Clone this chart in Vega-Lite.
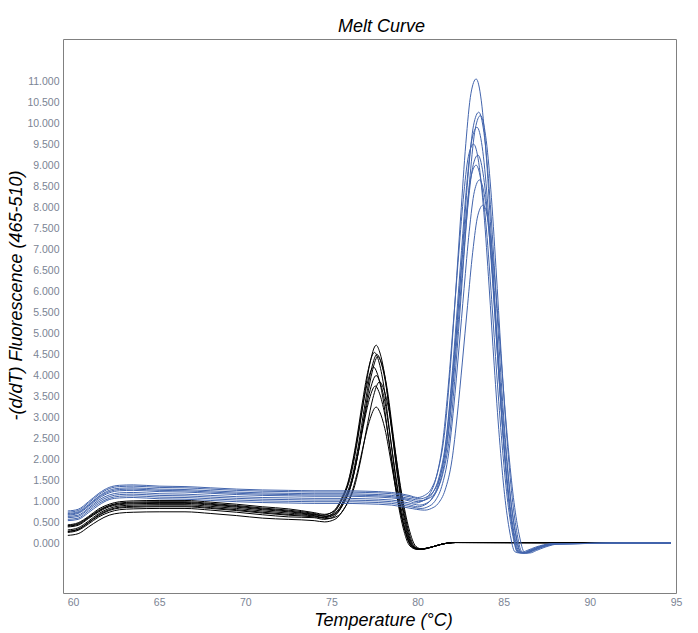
{
  "$schema": "https://vega.github.io/schema/vega-lite/v6.json",
  "width": 613,
  "height": 554,
  "autosize": {"type": "none"},
  "padding": {"top": 39, "left": 63, "right": 22, "bottom": 40},
  "background": "#ffffff",
  "title": {
    "text": "Melt Curve",
    "font": "Liberation Sans",
    "fontSize": 18,
    "fontStyle": "italic",
    "fontWeight": "normal",
    "color": "#000000",
    "anchor": "middle",
    "baseline": "alphabetic",
    "dx": 12,
    "dy": 18,
    "offset": 7
  },
  "datasets": {
    "black": [
      {"s":1,"t":59.7,"v":0.45},{"s":1,"t":60.3,"v":0.50},{"s":1,"t":60.9,"v":0.65},{"s":1,"t":61.5,"v":0.83},{"s":1,"t":62.1,"v":0.94},{"s":1,"t":62.7,"v":1.00},{"s":1,"t":63.5,"v":1.02},{"s":1,"t":65,"v":1.03},{"s":1,"t":66.5,"v":1.03},{"s":1,"t":68,"v":0.99},{"s":1,"t":69.5,"v":0.94},{"s":1,"t":71,"v":0.88},{"s":1,"t":72.5,"v":0.83},{"s":1,"t":74,"v":0.74},
      {"s":1,"t":74.6,"v":0.70},{"s":1,"t":75.2,"v":0.79},{"s":1,"t":75.7,"v":1.13},{"s":1,"t":76.1,"v":1.58},{"s":1,"t":76.5,"v":2.42},{"s":1,"t":76.9,"v":3.49},{"s":1,"t":77.2,"v":4.22},{"s":1,"t":77.6,"v":4.72},{"s":1,"t":77.8,"v":4.56},{"s":1,"t":78.1,"v":3.99},{"s":1,"t":78.5,"v":2.70},{"s":1,"t":78.9,"v":1.41},{"s":1,"t":79.3,"v":0.46},{"s":1,"t":79.7,"v":-0.04},{"s":1,"t":80.1,"v":-0.13},
      {"s":1,"t":80.8,"v":-0.08},{"s":1,"t":81.4,"v":-0.01},{"s":1,"t":82.2,"v":0.03},{"s":1,"t":94.7,"v":0.02},

      {"s":2,"t":59.7,"v":0.43},{"s":2,"t":60.3,"v":0.48},{"s":2,"t":60.9,"v":0.63},{"s":2,"t":61.5,"v":0.80},{"s":2,"t":62.1,"v":0.91},{"s":2,"t":62.7,"v":0.97},{"s":2,"t":63.5,"v":0.99},{"s":2,"t":65,"v":1.00},{"s":2,"t":66.5,"v":1.00},{"s":2,"t":68,"v":0.96},{"s":2,"t":69.5,"v":0.91},{"s":2,"t":71,"v":0.85},{"s":2,"t":72.5,"v":0.80},{"s":2,"t":74,"v":0.72},
      {"s":2,"t":74.5,"v":0.68},{"s":2,"t":75.1,"v":0.77},{"s":2,"t":75.6,"v":1.09},{"s":2,"t":76.0,"v":1.52},{"s":2,"t":76.4,"v":2.33},{"s":2,"t":76.8,"v":3.37},{"s":2,"t":77.1,"v":4.07},{"s":2,"t":77.5,"v":4.55},{"s":2,"t":77.7,"v":4.40},{"s":2,"t":78.0,"v":3.85},{"s":2,"t":78.4,"v":2.60},{"s":2,"t":78.8,"v":1.36},{"s":2,"t":79.2,"v":0.44},{"s":2,"t":79.6,"v":-0.04},{"s":2,"t":80.0,"v":-0.13},
      {"s":2,"t":80.8,"v":-0.08},{"s":2,"t":81.4,"v":-0.01},{"s":2,"t":82.2,"v":0.03},{"s":2,"t":94.7,"v":0.02},

      {"s":3,"t":59.7,"v":0.42},{"s":3,"t":60.3,"v":0.46},{"s":3,"t":60.9,"v":0.62},{"s":3,"t":61.5,"v":0.78},{"s":3,"t":62.1,"v":0.90},{"s":3,"t":62.7,"v":0.95},{"s":3,"t":63.5,"v":0.97},{"s":3,"t":65,"v":0.98},{"s":3,"t":66.5,"v":0.98},{"s":3,"t":68,"v":0.94},{"s":3,"t":69.5,"v":0.89},{"s":3,"t":71,"v":0.83},{"s":3,"t":72.5,"v":0.78},{"s":3,"t":74,"v":0.70},
      {"s":3,"t":74.65,"v":0.66},{"s":3,"t":75.25,"v":0.75},{"s":3,"t":75.75,"v":1.07},{"s":3,"t":76.15,"v":1.50},{"s":3,"t":76.55,"v":2.30},{"s":3,"t":76.95,"v":3.33},{"s":3,"t":77.25,"v":4.02},{"s":3,"t":77.65,"v":4.50},{"s":3,"t":77.85,"v":4.35},{"s":3,"t":78.15,"v":3.81},{"s":3,"t":78.55,"v":2.58},{"s":3,"t":78.95,"v":1.35},{"s":3,"t":79.35,"v":0.44},{"s":3,"t":79.75,"v":-0.05},{"s":3,"t":80.15,"v":-0.13},
      {"s":3,"t":80.8,"v":-0.08},{"s":3,"t":81.4,"v":-0.01},{"s":3,"t":82.2,"v":0.03},{"s":3,"t":94.7,"v":0.02},

      {"s":4,"t":59.7,"v":0.40},{"s":4,"t":60.3,"v":0.44},{"s":4,"t":60.9,"v":0.60},{"s":4,"t":61.5,"v":0.76},{"s":4,"t":62.1,"v":0.88},{"s":4,"t":62.7,"v":0.93},{"s":4,"t":63.5,"v":0.95},{"s":4,"t":65,"v":0.96},{"s":4,"t":66.5,"v":0.96},{"s":4,"t":68,"v":0.92},{"s":4,"t":69.5,"v":0.87},{"s":4,"t":71,"v":0.81},{"s":4,"t":72.5,"v":0.76},{"s":4,"t":74,"v":0.69},
      {"s":4,"t":74.7,"v":0.65},{"s":4,"t":75.3,"v":0.73},{"s":4,"t":75.8,"v":1.05},{"s":4,"t":76.2,"v":1.48},{"s":4,"t":76.6,"v":2.27},{"s":4,"t":77.0,"v":3.29},{"s":4,"t":77.3,"v":3.97},{"s":4,"t":77.7,"v":4.45},{"s":4,"t":77.9,"v":4.30},{"s":4,"t":78.2,"v":3.77},{"s":4,"t":78.6,"v":2.55},{"s":4,"t":79.0,"v":1.33},{"s":4,"t":79.4,"v":0.43},{"s":4,"t":79.8,"v":-0.05},{"s":4,"t":80.2,"v":-0.13},
      {"s":4,"t":80.8,"v":-0.08},{"s":4,"t":81.4,"v":-0.01},{"s":4,"t":82.2,"v":0.03},{"s":4,"t":94.7,"v":0.02},

      {"s":5,"t":59.7,"v":0.33},{"s":5,"t":60.3,"v":0.38},{"s":5,"t":60.9,"v":0.54},{"s":5,"t":61.5,"v":0.72},{"s":5,"t":62.1,"v":0.84},{"s":5,"t":62.7,"v":0.90},{"s":5,"t":63.5,"v":0.92},{"s":5,"t":65,"v":0.93},{"s":5,"t":66.5,"v":0.93},{"s":5,"t":68,"v":0.89},{"s":5,"t":69.5,"v":0.84},{"s":5,"t":71,"v":0.78},{"s":5,"t":72.5,"v":0.73},{"s":5,"t":74,"v":0.67},
      {"s":5,"t":74.45,"v":0.63},{"s":5,"t":75.05,"v":0.71},{"s":5,"t":75.55,"v":1.01},{"s":5,"t":75.95,"v":1.41},{"s":5,"t":76.35,"v":2.16},{"s":5,"t":76.75,"v":3.11},{"s":5,"t":77.05,"v":3.76},{"s":5,"t":77.45,"v":4.20},{"s":5,"t":77.65,"v":4.06},{"s":5,"t":77.95,"v":3.56},{"s":5,"t":78.35,"v":2.40},{"s":5,"t":78.75,"v":1.25},{"s":5,"t":79.15,"v":0.40},{"s":5,"t":79.55,"v":-0.05},{"s":5,"t":79.95,"v":-0.13},
      {"s":5,"t":80.8,"v":-0.08},{"s":5,"t":81.4,"v":-0.01},{"s":5,"t":82.2,"v":0.03},{"s":5,"t":94.7,"v":0.02},

      {"s":6,"t":59.7,"v":0.30},{"s":6,"t":60.3,"v":0.35},{"s":6,"t":60.9,"v":0.51},{"s":6,"t":61.5,"v":0.69},{"s":6,"t":62.1,"v":0.81},{"s":6,"t":62.7,"v":0.87},{"s":6,"t":63.5,"v":0.89},{"s":6,"t":65,"v":0.90},{"s":6,"t":66.5,"v":0.90},{"s":6,"t":68,"v":0.86},{"s":6,"t":69.5,"v":0.81},{"s":6,"t":71,"v":0.75},{"s":6,"t":72.5,"v":0.70},{"s":6,"t":74,"v":0.66},
      {"s":6,"t":74.6,"v":0.62},{"s":6,"t":75.2,"v":0.70},{"s":6,"t":75.7,"v":0.98},{"s":6,"t":76.1,"v":1.36},{"s":6,"t":76.5,"v":2.06},{"s":6,"t":76.9,"v":2.97},{"s":6,"t":77.2,"v":3.58},{"s":6,"t":77.6,"v":4.00},{"s":6,"t":77.8,"v":3.86},{"s":6,"t":78.1,"v":3.38},{"s":6,"t":78.5,"v":2.28},{"s":6,"t":78.9,"v":1.18},{"s":6,"t":79.3,"v":0.38},{"s":6,"t":79.7,"v":-0.06},{"s":6,"t":80.1,"v":-0.13},
      {"s":6,"t":80.8,"v":-0.08},{"s":6,"t":81.4,"v":-0.01},{"s":6,"t":82.2,"v":0.03},{"s":6,"t":94.7,"v":0.02},

      {"s":7,"t":59.7,"v":0.29},{"s":7,"t":60.3,"v":0.34},{"s":7,"t":60.9,"v":0.50},{"s":7,"t":61.5,"v":0.67},{"s":7,"t":62.1,"v":0.79},{"s":7,"t":62.7,"v":0.85},{"s":7,"t":63.5,"v":0.87},{"s":7,"t":65,"v":0.88},{"s":7,"t":66.5,"v":0.88},{"s":7,"t":68,"v":0.84},{"s":7,"t":69.5,"v":0.79},{"s":7,"t":71,"v":0.73},{"s":7,"t":72.5,"v":0.68},{"s":7,"t":74,"v":0.64},
      {"s":7,"t":74.8,"v":0.60},{"s":7,"t":75.4,"v":0.67},{"s":7,"t":75.9,"v":0.95},{"s":7,"t":76.3,"v":1.31},{"s":7,"t":76.7,"v":1.99},{"s":7,"t":77.1,"v":2.86},{"s":7,"t":77.4,"v":3.45},{"s":7,"t":77.8,"v":3.85},{"s":7,"t":78.0,"v":3.72},{"s":7,"t":78.3,"v":3.25},{"s":7,"t":78.7,"v":2.20},{"s":7,"t":79.1,"v":1.14},{"s":7,"t":79.5,"v":0.36},{"s":7,"t":79.9,"v":-0.06},{"s":7,"t":80.3,"v":-0.13},
      {"s":7,"t":80.8,"v":-0.08},{"s":7,"t":81.4,"v":-0.01},{"s":7,"t":82.2,"v":0.03},{"s":7,"t":94.7,"v":0.02},

      {"s":8,"t":59.7,"v":0.27},{"s":8,"t":60.3,"v":0.32},{"s":8,"t":60.9,"v":0.47},{"s":8,"t":61.5,"v":0.64},{"s":8,"t":62.1,"v":0.75},{"s":8,"t":62.7,"v":0.81},{"s":8,"t":63.5,"v":0.83},{"s":8,"t":65,"v":0.84},{"s":8,"t":66.5,"v":0.84},{"s":8,"t":68,"v":0.80},{"s":8,"t":69.5,"v":0.75},{"s":8,"t":71,"v":0.69},{"s":8,"t":72.5,"v":0.64},{"s":8,"t":74,"v":0.62},
      {"s":8,"t":74.55,"v":0.58},{"s":8,"t":75.15,"v":0.65},{"s":8,"t":75.65,"v":0.92},{"s":8,"t":76.05,"v":1.27},{"s":8,"t":76.45,"v":1.94},{"s":8,"t":76.85,"v":2.79},{"s":8,"t":77.15,"v":3.36},{"s":8,"t":77.55,"v":3.75},{"s":8,"t":77.75,"v":3.62},{"s":8,"t":78.05,"v":3.17},{"s":8,"t":78.45,"v":2.14},{"s":8,"t":78.85,"v":1.11},{"s":8,"t":79.25,"v":0.35},{"s":8,"t":79.65,"v":-0.06},{"s":8,"t":80.05,"v":-0.13},
      {"s":8,"t":80.8,"v":-0.08},{"s":8,"t":81.4,"v":-0.01},{"s":8,"t":82.2,"v":0.03},{"s":8,"t":94.7,"v":0.02},

      {"s":9,"t":59.7,"v":0.20},{"s":9,"t":60.3,"v":0.24},{"s":9,"t":60.9,"v":0.40},{"s":9,"t":61.5,"v":0.56},{"s":9,"t":62.1,"v":0.68},{"s":9,"t":62.7,"v":0.73},{"s":9,"t":63.5,"v":0.75},{"s":9,"t":65,"v":0.76},{"s":9,"t":66.5,"v":0.76},{"s":9,"t":68,"v":0.72},{"s":9,"t":69.5,"v":0.67},{"s":9,"t":71,"v":0.61},{"s":9,"t":72.5,"v":0.58},{"s":9,"t":74,"v":0.55},
      {"s":9,"t":74.6,"v":0.52},{"s":9,"t":75.2,"v":0.58},{"s":9,"t":75.7,"v":0.81},{"s":9,"t":76.1,"v":1.12},{"s":9,"t":76.5,"v":1.69},{"s":9,"t":76.9,"v":2.42},{"s":9,"t":77.2,"v":2.91},{"s":9,"t":77.6,"v":3.25},{"s":9,"t":77.8,"v":3.14},{"s":9,"t":78.1,"v":2.74},{"s":9,"t":78.5,"v":1.85},{"s":9,"t":78.9,"v":0.95},{"s":9,"t":79.3,"v":0.29},{"s":9,"t":79.7,"v":-0.07},{"s":9,"t":80.1,"v":-0.13},
      {"s":9,"t":80.8,"v":-0.08},{"s":9,"t":81.4,"v":-0.01},{"s":9,"t":82.2,"v":0.03},{"s":9,"t":94.7,"v":0.02}
    ],
    "blue": [
      {"s":1,"t":59.7,"v":0.78},{"s":1,"t":60.3,"v":0.82},{"s":1,"t":60.9,"v":1.00},{"s":1,"t":61.5,"v":1.20},{"s":1,"t":62.1,"v":1.34},{"s":1,"t":62.7,"v":1.39},{"s":1,"t":63.5,"v":1.40},{"s":1,"t":65,"v":1.37},{"s":1,"t":66.5,"v":1.36},{"s":1,"t":68,"v":1.33},{"s":1,"t":69.5,"v":1.30},{"s":1,"t":71,"v":1.28},{"s":1,"t":72.5,"v":1.27},{"s":1,"t":74,"v":1.26},{"s":1,"t":75.5,"v":1.26},{"s":1,"t":77,"v":1.25},{"s":1,"t":78.5,"v":1.22},{"s":1,"t":79.5,"v":1.15},
      {"s":1,"t":80.0,"v":1.10},{"s":1,"t":80.4,"v":1.15},{"s":1,"t":80.8,"v":1.31},{"s":1,"t":81.2,"v":1.76},{"s":1,"t":81.6,"v":2.75},{"s":1,"t":81.9,"v":4.17},{"s":1,"t":82.2,"v":5.92},{"s":1,"t":82.5,"v":7.77},{"s":1,"t":82.8,"v":9.51},{"s":1,"t":83.1,"v":10.71},{"s":1,"t":83.4,"v":11.05},{"s":1,"t":83.7,"v":10.53},{"s":1,"t":84.0,"v":9.15},{"s":1,"t":84.3,"v":7.13},{"s":1,"t":84.6,"v":4.92},{"s":1,"t":84.9,"v":2.95},{"s":1,"t":85.2,"v":1.38},{"s":1,"t":85.5,"v":0.36},{"s":1,"t":85.8,"v":-0.19},{"s":1,"t":86.1,"v":-0.22},{"s":1,"t":86.5,"v":-0.16},{"s":1,"t":87.0,"v":-0.08},{"s":1,"t":87.9,"v":0.0},{"s":1,"t":94.7,"v":0.02},

      {"s":2,"t":59.7,"v":0.75},{"s":2,"t":60.3,"v":0.79},{"s":2,"t":60.9,"v":0.97},{"s":2,"t":61.5,"v":1.17},{"s":2,"t":62.1,"v":1.31},{"s":2,"t":62.7,"v":1.36},{"s":2,"t":63.5,"v":1.37},{"s":2,"t":65,"v":1.34},{"s":2,"t":66.5,"v":1.33},{"s":2,"t":68,"v":1.30},{"s":2,"t":69.5,"v":1.27},{"s":2,"t":71,"v":1.25},{"s":2,"t":72.5,"v":1.24},{"s":2,"t":74,"v":1.23},{"s":2,"t":75.5,"v":1.23},{"s":2,"t":77,"v":1.22},{"s":2,"t":78.5,"v":1.19},{"s":2,"t":79.5,"v":1.12},
      {"s":2,"t":80.15,"v":1.07},{"s":2,"t":80.55,"v":1.12},{"s":2,"t":80.95,"v":1.26},{"s":2,"t":81.35,"v":1.67},{"s":2,"t":81.75,"v":2.59},{"s":2,"t":82.05,"v":3.90},{"s":2,"t":82.35,"v":5.52},{"s":2,"t":82.65,"v":7.23},{"s":2,"t":82.95,"v":8.84},{"s":2,"t":83.25,"v":9.95},{"s":2,"t":83.55,"v":10.26},{"s":2,"t":83.85,"v":9.78},{"s":2,"t":84.15,"v":8.49},{"s":2,"t":84.45,"v":6.62},{"s":2,"t":84.75,"v":4.56},{"s":2,"t":85.05,"v":2.73},{"s":2,"t":85.35,"v":1.27},{"s":2,"t":85.65,"v":0.32},{"s":2,"t":85.95,"v":-0.19},{"s":2,"t":86.25,"v":-0.22},{"s":2,"t":86.65,"v":-0.16},{"s":2,"t":87.15,"v":-0.08},{"s":2,"t":88.05,"v":0.0},{"s":2,"t":94.7,"v":0.02},

      {"s":3,"t":59.7,"v":0.72},{"s":3,"t":60.3,"v":0.76},{"s":3,"t":60.9,"v":0.93},{"s":3,"t":61.5,"v":1.13},{"s":3,"t":62.1,"v":1.27},{"s":3,"t":62.7,"v":1.32},{"s":3,"t":63.5,"v":1.33},{"s":3,"t":65,"v":1.30},{"s":3,"t":66.5,"v":1.29},{"s":3,"t":68,"v":1.26},{"s":3,"t":69.5,"v":1.23},{"s":3,"t":71,"v":1.21},{"s":3,"t":72.5,"v":1.20},{"s":3,"t":74,"v":1.19},{"s":3,"t":75.5,"v":1.19},{"s":3,"t":77,"v":1.18},{"s":3,"t":78.5,"v":1.15},{"s":3,"t":79.5,"v":1.08},
      {"s":3,"t":80.25,"v":1.03},{"s":3,"t":80.65,"v":1.08},{"s":3,"t":81.05,"v":1.22},{"s":3,"t":81.45,"v":1.64},{"s":3,"t":81.85,"v":2.54},{"s":3,"t":82.15,"v":3.86},{"s":3,"t":82.45,"v":5.46},{"s":3,"t":82.75,"v":7.16},{"s":3,"t":83.05,"v":8.76},{"s":3,"t":83.35,"v":9.87},{"s":3,"t":83.65,"v":10.18},{"s":3,"t":83.95,"v":9.70},{"s":3,"t":84.25,"v":8.43},{"s":3,"t":84.55,"v":6.57},{"s":3,"t":84.85,"v":4.53},{"s":3,"t":85.15,"v":2.71},{"s":3,"t":85.45,"v":1.26},{"s":3,"t":85.75,"v":0.31},{"s":3,"t":86.05,"v":-0.19},{"s":3,"t":86.35,"v":-0.22},{"s":3,"t":86.75,"v":-0.16},{"s":3,"t":87.25,"v":-0.08},{"s":3,"t":88.15,"v":0.0},{"s":3,"t":94.7,"v":0.02},

      {"s":4,"t":59.7,"v":0.70},{"s":4,"t":60.3,"v":0.74},{"s":4,"t":60.9,"v":0.91},{"s":4,"t":61.5,"v":1.11},{"s":4,"t":62.1,"v":1.24},{"s":4,"t":62.7,"v":1.29},{"s":4,"t":63.5,"v":1.30},{"s":4,"t":65,"v":1.27},{"s":4,"t":66.5,"v":1.26},{"s":4,"t":68,"v":1.23},{"s":4,"t":69.5,"v":1.20},{"s":4,"t":71,"v":1.18},{"s":4,"t":72.5,"v":1.17},{"s":4,"t":74,"v":1.16},{"s":4,"t":75.5,"v":1.16},{"s":4,"t":77,"v":1.15},{"s":4,"t":78.5,"v":1.12},{"s":4,"t":79.5,"v":1.05},
      {"s":4,"t":80.05,"v":1.00},{"s":4,"t":80.45,"v":1.05},{"s":4,"t":80.85,"v":1.19},{"s":4,"t":81.25,"v":1.59},{"s":4,"t":81.65,"v":2.47},{"s":4,"t":81.95,"v":3.75},{"s":4,"t":82.25,"v":5.31},{"s":4,"t":82.55,"v":6.97},{"s":4,"t":82.85,"v":8.52},{"s":4,"t":83.15,"v":9.60},{"s":4,"t":83.45,"v":9.90},{"s":4,"t":83.75,"v":9.44},{"s":4,"t":84.05,"v":8.20},{"s":4,"t":84.35,"v":6.39},{"s":4,"t":84.65,"v":4.41},{"s":4,"t":84.95,"v":2.63},{"s":4,"t":85.25,"v":1.23},{"s":4,"t":85.55,"v":0.30},{"s":4,"t":85.85,"v":-0.19},{"s":4,"t":86.15,"v":-0.22},{"s":4,"t":86.55,"v":-0.16},{"s":4,"t":87.05,"v":-0.08},{"s":4,"t":87.95,"v":0.0},{"s":4,"t":94.7,"v":0.02},

      {"s":5,"t":59.7,"v":0.68},{"s":5,"t":60.3,"v":0.72},{"s":5,"t":60.9,"v":0.89},{"s":5,"t":61.5,"v":1.08},{"s":5,"t":62.1,"v":1.21},{"s":5,"t":62.7,"v":1.26},{"s":5,"t":63.5,"v":1.27},{"s":5,"t":65,"v":1.24},{"s":5,"t":66.5,"v":1.23},{"s":5,"t":68,"v":1.20},{"s":5,"t":69.5,"v":1.17},{"s":5,"t":71,"v":1.15},{"s":5,"t":72.5,"v":1.14},{"s":5,"t":74,"v":1.13},{"s":5,"t":75.5,"v":1.13},{"s":5,"t":77,"v":1.12},{"s":5,"t":78.5,"v":1.09},{"s":5,"t":79.5,"v":1.02},
      {"s":5,"t":79.85,"v":0.97},{"s":5,"t":80.25,"v":1.01},{"s":5,"t":80.65,"v":1.15},{"s":5,"t":81.05,"v":1.53},{"s":5,"t":81.45,"v":2.38},{"s":5,"t":81.75,"v":3.60},{"s":5,"t":82.05,"v":5.11},{"s":5,"t":82.35,"v":6.69},{"s":5,"t":82.65,"v":8.18},{"s":5,"t":82.95,"v":9.21},{"s":5,"t":83.25,"v":9.50},{"s":5,"t":83.55,"v":9.06},{"s":5,"t":83.85,"v":7.87},{"s":5,"t":84.15,"v":6.13},{"s":5,"t":84.45,"v":4.23},{"s":5,"t":84.75,"v":2.52},{"s":5,"t":85.05,"v":1.17},{"s":5,"t":85.35,"v":0.28},{"s":5,"t":85.65,"v":-0.19},{"s":5,"t":85.95,"v":-0.22},{"s":5,"t":86.35,"v":-0.16},{"s":5,"t":86.85,"v":-0.08},{"s":5,"t":87.75,"v":0.0},{"s":5,"t":94.7,"v":0.02},

      {"s":6,"t":59.7,"v":0.65},{"s":6,"t":60.3,"v":0.68},{"s":6,"t":60.9,"v":0.85},{"s":6,"t":61.5,"v":1.04},{"s":6,"t":62.1,"v":1.16},{"s":6,"t":62.7,"v":1.21},{"s":6,"t":63.5,"v":1.22},{"s":6,"t":65,"v":1.19},{"s":6,"t":66.5,"v":1.18},{"s":6,"t":68,"v":1.15},{"s":6,"t":69.5,"v":1.12},{"s":6,"t":71,"v":1.10},{"s":6,"t":72.5,"v":1.09},{"s":6,"t":74,"v":1.08},{"s":6,"t":75.5,"v":1.08},{"s":6,"t":77,"v":1.07},{"s":6,"t":78.5,"v":1.04},{"s":6,"t":79.5,"v":0.97},
      {"s":6,"t":80.1,"v":0.92},{"s":6,"t":80.5,"v":0.96},{"s":6,"t":80.9,"v":1.10},{"s":6,"t":81.3,"v":1.47},{"s":6,"t":81.7,"v":2.30},{"s":6,"t":82.0,"v":3.49},{"s":6,"t":82.3,"v":4.95},{"s":6,"t":82.6,"v":6.50},{"s":6,"t":82.9,"v":7.95},{"s":6,"t":83.2,"v":8.95},{"s":6,"t":83.5,"v":9.24},{"s":6,"t":83.8,"v":8.81},{"s":6,"t":84.1,"v":7.65},{"s":6,"t":84.4,"v":5.96},{"s":6,"t":84.7,"v":4.11},{"s":6,"t":85.0,"v":2.45},{"s":6,"t":85.3,"v":1.14},{"s":6,"t":85.6,"v":0.27},{"s":6,"t":85.9,"v":-0.19},{"s":6,"t":86.2,"v":-0.22},{"s":6,"t":86.6,"v":-0.16},{"s":6,"t":87.1,"v":-0.08},{"s":6,"t":88.0,"v":0.0},{"s":6,"t":94.7,"v":0.02},

      {"s":7,"t":59.7,"v":0.62},{"s":7,"t":60.3,"v":0.65},{"s":7,"t":60.9,"v":0.82},{"s":7,"t":61.5,"v":1.00},{"s":7,"t":62.1,"v":1.12},{"s":7,"t":62.7,"v":1.17},{"s":7,"t":63.5,"v":1.18},{"s":7,"t":65,"v":1.15},{"s":7,"t":66.5,"v":1.14},{"s":7,"t":68,"v":1.11},{"s":7,"t":69.5,"v":1.08},{"s":7,"t":71,"v":1.06},{"s":7,"t":72.5,"v":1.05},{"s":7,"t":74,"v":1.04},{"s":7,"t":75.5,"v":1.04},{"s":7,"t":77,"v":1.03},{"s":7,"t":78.5,"v":1.00},{"s":7,"t":79.5,"v":0.93},
      {"s":7,"t":80.0,"v":0.88},{"s":7,"t":80.4,"v":0.92},{"s":7,"t":80.8,"v":1.06},{"s":7,"t":81.2,"v":1.42},{"s":7,"t":81.6,"v":2.23},{"s":7,"t":81.9,"v":3.39},{"s":7,"t":82.2,"v":4.82},{"s":7,"t":82.5,"v":6.32},{"s":7,"t":82.8,"v":7.74},{"s":7,"t":83.1,"v":8.72},{"s":7,"t":83.4,"v":9.00},{"s":7,"t":83.7,"v":8.58},{"s":7,"t":84.0,"v":7.46},{"s":7,"t":84.3,"v":5.81},{"s":7,"t":84.6,"v":4.01},{"s":7,"t":84.9,"v":2.39},{"s":7,"t":85.2,"v":1.11},{"s":7,"t":85.5,"v":0.26},{"s":7,"t":85.8,"v":-0.20},{"s":7,"t":86.1,"v":-0.22},{"s":7,"t":86.5,"v":-0.16},{"s":7,"t":87.0,"v":-0.08},{"s":7,"t":87.9,"v":0.0},{"s":7,"t":94.7,"v":0.02},

      {"s":8,"t":59.7,"v":0.58},{"s":8,"t":60.3,"v":0.61},{"s":8,"t":60.9,"v":0.78},{"s":8,"t":61.5,"v":0.96},{"s":8,"t":62.1,"v":1.08},{"s":8,"t":62.7,"v":1.13},{"s":8,"t":63.5,"v":1.14},{"s":8,"t":65,"v":1.11},{"s":8,"t":66.5,"v":1.10},{"s":8,"t":68,"v":1.07},{"s":8,"t":69.5,"v":1.04},{"s":8,"t":71,"v":1.02},{"s":8,"t":72.5,"v":1.01},{"s":8,"t":74,"v":1.00},{"s":8,"t":75.5,"v":1.00},{"s":8,"t":77,"v":0.99},{"s":8,"t":78.5,"v":0.96},{"s":8,"t":79.5,"v":0.89},
      {"s":8,"t":80.2,"v":0.84},{"s":8,"t":80.6,"v":0.88},{"s":8,"t":81.0,"v":1.01},{"s":8,"t":81.4,"v":1.36},{"s":8,"t":81.8,"v":2.14},{"s":8,"t":82.1,"v":3.25},{"s":8,"t":82.4,"v":4.63},{"s":8,"t":82.7,"v":6.07},{"s":8,"t":83.0,"v":7.43},{"s":8,"t":83.3,"v":8.38},{"s":8,"t":83.6,"v":8.65},{"s":8,"t":83.9,"v":8.24},{"s":8,"t":84.2,"v":7.17},{"s":8,"t":84.5,"v":5.59},{"s":8,"t":84.8,"v":3.85},{"s":8,"t":85.1,"v":2.30},{"s":8,"t":85.4,"v":1.06},{"s":8,"t":85.7,"v":0.24},{"s":8,"t":86.0,"v":-0.20},{"s":8,"t":86.3,"v":-0.22},{"s":8,"t":86.7,"v":-0.16},{"s":8,"t":87.2,"v":-0.08},{"s":8,"t":88.1,"v":0.0},{"s":8,"t":94.7,"v":0.02},

      {"s":9,"t":59.7,"v":0.55},{"s":9,"t":60.3,"v":0.58},{"s":9,"t":60.9,"v":0.74},{"s":9,"t":61.5,"v":0.92},{"s":9,"t":62.1,"v":1.05},{"s":9,"t":62.7,"v":1.09},{"s":9,"t":63.5,"v":1.10},{"s":9,"t":65,"v":1.07},{"s":9,"t":66.5,"v":1.06},{"s":9,"t":68,"v":1.03},{"s":9,"t":69.5,"v":1.00},{"s":9,"t":71,"v":0.98},{"s":9,"t":72.5,"v":0.97},{"s":9,"t":74,"v":0.96},{"s":9,"t":75.5,"v":0.96},{"s":9,"t":77,"v":0.95},{"s":9,"t":78.5,"v":0.92},{"s":9,"t":79.5,"v":0.85},
      {"s":9,"t":80.4,"v":0.80},{"s":9,"t":80.8,"v":0.84},{"s":9,"t":81.2,"v":0.96},{"s":9,"t":81.6,"v":1.28},{"s":9,"t":82.0,"v":2.00},{"s":9,"t":82.3,"v":3.04},{"s":9,"t":82.6,"v":4.32},{"s":9,"t":82.9,"v":5.66},{"s":9,"t":83.2,"v":6.93},{"s":9,"t":83.5,"v":7.81},{"s":9,"t":83.8,"v":8.05},{"s":9,"t":84.1,"v":7.68},{"s":9,"t":84.4,"v":6.67},{"s":9,"t":84.7,"v":5.20},{"s":9,"t":85.0,"v":3.58},{"s":9,"t":85.3,"v":2.13},{"s":9,"t":85.6,"v":0.98},{"s":9,"t":85.9,"v":0.21},{"s":9,"t":86.2,"v":-0.20},{"s":9,"t":86.5,"v":-0.22},{"s":9,"t":86.9,"v":-0.16},{"s":9,"t":87.4,"v":-0.08},{"s":9,"t":88.3,"v":0.0},{"s":9,"t":94.7,"v":0.02}
    ]
  },
  "encoding": {
    "x": {
      "field": "t",
      "type": "quantitative",
      "scale": {"domain": [59.42, 95], "nice": false, "zero": false},
      "axis": {
        "title": "Temperature (°C)",
        "values": [60, 65, 70, 75, 80, 85, 90, 95],
        "format": "d",
        "grid": false,
        "ticks": false,
        "domain": false,
        "labelPadding": 4,
        "labelFont": "Liberation Sans",
        "labelFontSize": 10.5,
        "labelColor": "#7b8494",
        "labelFlush": false,
        "titleFont": "Liberation Sans",
        "titleFontSize": 18,
        "titleFontStyle": "italic",
        "titleFontWeight": "normal",
        "titleColor": "#000000",
        "titleAlign": "center",
        "titleBaseline": "alphabetic",
        "titleX": 320,
        "titleY": 32
      }
    },
    "y": {
      "field": "v",
      "type": "quantitative",
      "scale": {"domain": [-1.17, 12], "nice": false, "zero": false},
      "axis": {
        "title": "-(d/dT) Fluorescence (465-510)",
        "values": [0, 0.5, 1, 1.5, 2, 2.5, 3, 3.5, 4, 4.5, 5, 5.5, 6, 6.5, 7, 7.5, 8, 8.5, 9, 9.5, 10, 10.5, 11],
        "format": ".3f",
        "grid": false,
        "ticks": false,
        "domain": false,
        "labelPadding": 4,
        "labelFont": "Liberation Sans",
        "labelFontSize": 10.5,
        "labelColor": "#7b8494",
        "titleFont": "Liberation Sans",
        "titleFontSize": 18,
        "titleFontStyle": "italic",
        "titleFontWeight": "normal",
        "titleColor": "#000000",
        "titleAngle": -90,
        "titleAlign": "center",
        "titleBaseline": "alphabetic",
        "titleX": -42,
        "titleY": 256
      }
    },
    "detail": {"field": "s", "type": "nominal"}
  },
  "layer": [
    {
      "data": {"name": "black"},
      "mark": {"type": "line", "interpolate": "monotone", "color": "#000000", "strokeWidth": 1, "clip": true}
    },
    {
      "data": {"name": "blue"},
      "mark": {"type": "line", "interpolate": "monotone", "color": "#4365ad", "strokeWidth": 1, "clip": true}
    }
  ],
  "config": {
    "view": {"stroke": "#808080", "strokeWidth": 1}
  }
}
